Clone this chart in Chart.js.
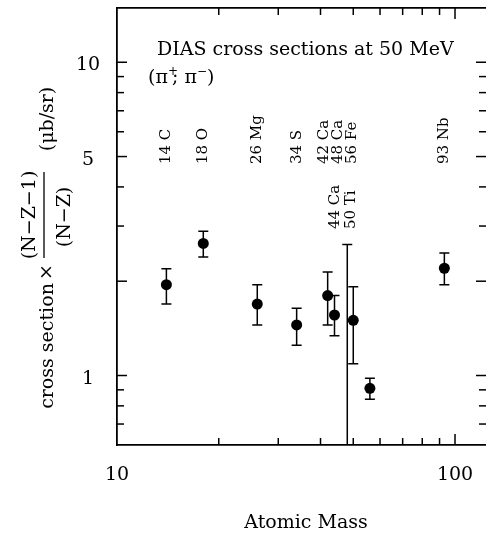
<!DOCTYPE html>
<html>
<head>
<meta charset="utf-8">
<script src="https://cdn.jsdelivr.net/npm/chart.js@4.4.0/dist/chart.umd.min.js"></script>
<style>
  html, body { margin: 0; padding: 0; background: #fff; overflow: hidden; }
  #wrap { width: 486px; height: 533px; }
</style>
</head>
<body>
<div id="wrap"><canvas id="diasChart" width="486" height="533" style="width:486px;height:533px"></canvas></div>
<script>
const masses       = [14, 18, 26, 34, 42, 44, 48, 50, 56, 93];
const crossSection = [1.95, 2.64, 1.69, 1.45, 1.80, 1.56, null, 1.50, 0.91, 2.20];
const errUpper     = [2.19, 2.89, 1.95, 1.64, 2.14, 1.80, 2.62, 1.92, 0.98, 2.46];
const errLower     = [1.69, 2.39, 1.45, 1.25, 1.45, 1.34, 0.30, 1.09, 0.84, 1.95];

// nucleus labels written across the top of the plot
const nucleusLabels    = ['14 C', '18 O', '26 Mg', '34 S', '42 Ca', '48 Ca', '56 Fe', '93 Nb'];
const nucleusLabelMass = [14, 18, 26, 34, 41, 45.1, 49.6, 93];
const lowerLabels      = ['44 Ca', '50 Ti'];
const lowerLabelMass   = [44.2, 49.2];

const xTickValues  = [10, 100];
const yTickValues  = [1, 5, 10];
const xMinorTicks  = [20, 30, 40, 50, 60, 70, 80, 90];
const yMajorMarks  = [1, 2, 5, 10];
const yMinorMarks  = [0.7, 0.8, 0.9, 3, 4, 6, 7, 8, 9];

const serif = '"DejaVu Serif", "Liberation Serif", serif';

// inward tick marks on all four sides, plus tick labels
const tickMarks = {
  id: 'tickMarks',
  afterDraw(chart) {
    const {ctx, chartArea: a, scales: {x, y}} = chart;
    ctx.save();
    ctx.strokeStyle = '#000';
    ctx.lineWidth = 1.5;
    const seg = (x1, y1, x2, y2) => { ctx.beginPath(); ctx.moveTo(x1, y1); ctx.lineTo(x2, y2); ctx.stroke(); };
    const xm = xMinorTicks.map(v => [v, 7]).concat(xTickValues.map(v => [v, 11]));
    xm.forEach(([v, len]) => {
      const px = x.getPixelForValue(v);
      if (px <= a.left + 1 || px >= a.right - 1) return;
      seg(px, a.bottom, px, a.bottom - len);
      seg(px, a.top, px, a.top + len);
    });
    const ym = yMinorMarks.map(v => [v, 7]).concat(yMajorMarks.map(v => [v, 10]));
    ym.forEach(([v, len]) => {
      const py = y.getPixelForValue(v);
      if (py <= a.top + 1 || py >= a.bottom - 1) return;
      seg(a.left, py, a.left + len, py);
      seg(a.right, py, a.right - len, py);
    });

    ctx.fillStyle = '#000';
    ctx.font = '19px ' + serif;
    ctx.textAlign = 'center';
    ctx.textBaseline = 'alphabetic';
    xTickValues.forEach(v => ctx.fillText(String(v), x.getPixelForValue(v), 480));
    yTickValues.forEach(v => ctx.fillText(String(v), 88, y.getPixelForValue(v) + 8));
    ctx.restore();
  }
};

// vertical error bars with caps
const errorBars = {
  id: 'errorBars',
  beforeDatasetsDraw(chart) {
    const {ctx, chartArea: a, scales: {x, y}} = chart;
    ctx.save();
    ctx.beginPath();
    ctx.rect(a.left, a.top, a.right - a.left, a.bottom - a.top);
    ctx.clip();
    ctx.strokeStyle = '#000';
    ctx.lineWidth = 1.5;
    masses.forEach((m, i) => {
      const px = x.getPixelForValue(m);
      const top = y.getPixelForValue(errUpper[i]);
      const bot = y.getPixelForValue(errLower[i]);
      ctx.beginPath();
      ctx.moveTo(px, top); ctx.lineTo(px, bot);
      ctx.moveTo(px - 5, top); ctx.lineTo(px + 5, top);
      ctx.moveTo(px - 5, bot); ctx.lineTo(px + 5, bot);
      ctx.stroke();
    });
    ctx.restore();
  }
};

// title, nucleus labels and axis titles
const texts = {
  id: 'texts',
  afterDraw(chart) {
    const {ctx, scales: {x}} = chart;
    ctx.save();
    ctx.fillStyle = '#000';

    // heading
    ctx.font = '19px ' + serif;
    ctx.textAlign = 'left';
    ctx.textBaseline = 'alphabetic';
    ctx.fillText('DIAS cross sections at 50 MeV', 157, 55);

    // (pi+; pi-)
    let cx = 148;
    const by = 83;
    const part = (s, size, dy) => {
      ctx.font = size + 'px ' + serif;
      ctx.fillText(s, cx, by + dy);
      cx += ctx.measureText(s).width;
    };
    part('(π', 19, 0);
    part('+', 12, -8);
    cx -= 6;
    part(';', 19, 0);
    part(' π', 19, 0);
    part('−', 12, -8);
    part(')', 19, 0);

    // nucleus labels, written upward
    const vertical = (s, px, yStart) => {
      ctx.save();
      ctx.translate(px, yStart);
      ctx.rotate(-Math.PI / 2);
      ctx.textAlign = 'left';
      ctx.textBaseline = 'middle';
      ctx.fillText(s, 0, 0);
      ctx.restore();
    };
    ctx.font = '15px ' + serif;
    nucleusLabels.forEach((s, i) => vertical(s, x.getPixelForValue(nucleusLabelMass[i]), 164));
    lowerLabels.forEach((s, i) => vertical(s, x.getPixelForValue(lowerLabelMass[i]), 229));

    // x axis title
    ctx.font = '19px ' + serif;
    ctx.textAlign = 'center';
    ctx.textBaseline = 'alphabetic';
    ctx.fillText('Atomic Mass', 306, 528);

    // y axis title: cross section x (N-Z-1)/(N-Z) (mub/sr)
    const rotText = (s, bx, cy) => {
      ctx.save();
      ctx.translate(bx, cy);
      ctx.rotate(-Math.PI / 2);
      ctx.textAlign = 'center';
      ctx.textBaseline = 'alphabetic';
      ctx.fillText(s, 0, 0);
      ctx.restore();
    };
    ctx.font = '19px ' + serif;
    rotText('cross section', 53, 346);
    rotText('×', 52, 272);
    rotText('(N−Z−1)', 35, 215);
    rotText('(N−Z)', 70, 217);
    rotText('(μb/sr)', 53, 119);
    ctx.strokeStyle = '#000';
    ctx.lineWidth = 1.3;
    ctx.beginPath();
    ctx.moveTo(44, 258); ctx.lineTo(44, 172);
    ctx.stroke();

    ctx.restore();
  }
};

const points = masses
  .map((m, i) => ({x: m, y: crossSection[i]}))
  .filter(p => p.y !== null);

const axisBorder = {display: true, color: '#000', width: 1.8};
const quietGrid = {display: false, drawTicks: false};

new Chart(document.getElementById('diasChart'), {
  type: 'scatter',
  data: {
    datasets: [{
      data: points,
      pointRadius: 5.5,
      pointHoverRadius: 5.5,
      backgroundColor: '#000',
      borderWidth: 0
    }]
  },
  options: {
    responsive: false,
    animation: false,
    events: [],
    layout: {padding: 0, autoPadding: false},
    plugins: {legend: {display: false}, tooltip: {enabled: false}},
    scales: {
      x: {
        type: 'logarithmic', position: 'bottom', min: 10, max: 123.5,
        grid: quietGrid, border: axisBorder, ticks: {display: false},
        afterFit: s => { s.height = 88; }
      },
      x2: {
        type: 'logarithmic', position: 'top', min: 10, max: 123.5,
        grid: quietGrid, border: axisBorder, ticks: {display: false},
        afterFit: s => { s.height = 8; }
      },
      y: {
        type: 'logarithmic', position: 'left', min: 0.613, max: 14.9,
        grid: quietGrid, border: axisBorder, ticks: {display: false},
        afterFit: s => { s.width = 117; }
      }
    }
  },
  plugins: [errorBars, tickMarks, texts]
});
</script>
</body>
</html>
